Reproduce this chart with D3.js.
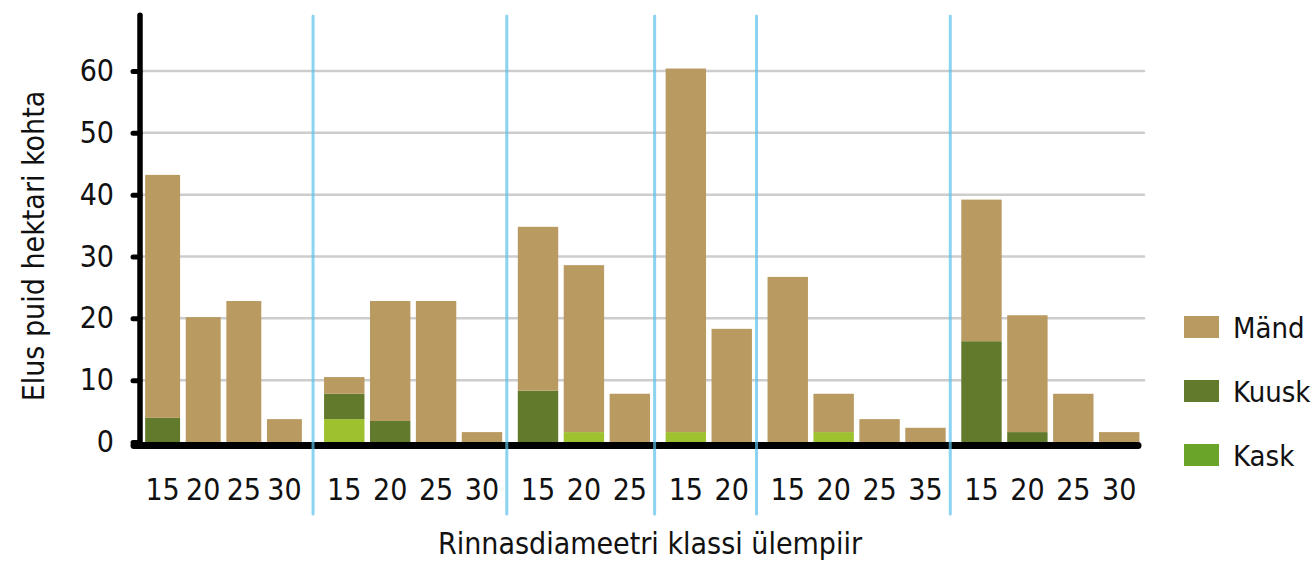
<!DOCTYPE html>
<html>
<head>
<meta charset="utf-8">
<script src="https://cdn.jsdelivr.net/npm/d3@7"></script>
<style>
  body { margin: 0; background: #fff; }
  svg text { font-family: "DejaVu Sans Condensed", "DejaVu Sans", sans-serif; font-stretch: condensed; fill: #111; }
</style>
</head>
<body>
<div id="chart"></div>
<script>
// diameter class labels, one list per plot group
var groups = [
  ["15", "20", "25", "30"],
  ["15", "20", "25", "30"],
  ["15", "20", "25"],
  ["15", "20"],
  ["15", "20", "25", "35"],
  ["15", "20", "25", "30"]
];

// trees per hectare, one value per bar (same order as groups, flattened)
var mand  = [39.3, 20.2, 22.8, 3.7,  2.7, 19.4, 22.8, 1.6,  26.5, 27.0, 7.8,  58.8, 18.3,  26.7, 6.2, 3.7, 2.3,  22.9, 18.9, 7.8, 1.6];
var kuusk = [3.9, 0, 0, 0,           4.1, 3.4, 0, 0,        8.3, 0, 0,        0, 0,        0, 0, 0, 0,            16.3, 1.6, 0, 0];
var kask  = [0, 0, 0, 0,             3.7, 0, 0, 0,          0, 1.6, 0,        1.6, 0,      0, 1.6, 0, 0,          0, 0, 0, 0];

var series = ["Mänd", "Kuusk", "Kask"];
var yTicks = [0, 10, 20, 30, 40, 50, 60];

var barColor = { "Mänd": "#b99a61", "Kuusk": "#627a2c", "Kask": "#9dc22e" };
var legendColor = { "Mänd": "#b99a61", "Kuusk": "#627a2c", "Kask": "#6aa428" };

var svgWidth = 1315, svgHeight = 562;

var svg = d3.select("#chart").append("svg")
  .attr("width", svgWidth)
  .attr("height", svgHeight);

// build rows for the stack
var rows = [];
var k = 0;
groups.forEach(function(labels, g) {
  labels.forEach(function(lab, i) {
    rows.push({ group: g, label: lab, idx: i, "Mänd": mand[k], "Kuusk": kuusk[k], "Kask": kask[k] });
    k++;
  });
});

// stacking goes bottom-up: Kask, Kuusk, Mänd
var stacked = d3.stack().keys(["Kask", "Kuusk", "Mänd"])(rows);

// y scale
var y = d3.scaleLinear().domain([0, 60]).range([442, 71]);

// x: each bar gets one slot, each group a small lead and trailing gap.
// the first group is squeezed in next to the axis in the original
function slotW(g) { return g === 0 ? 0.88 : 1; }
function leadW(g) { return g === 0 ? 0.19 : 0.18; }
function trailW(g) { return g === 0 ? 0.19 : 0.04; }

var starts = [];
var total = 0;
groups.forEach(function(labels, g) {
  starts.push(total);
  total += leadW(g) + labels.length * slotW(g) + trailW(g);
});
var xSlot = d3.scaleLinear().domain([0, total]).range([134, 1144]);

var inner = groups.map(function(labels, g) {
  var a = starts[g] + leadW(g);
  return d3.scaleBand()
    .domain(labels)
    .range([xSlot(a), xSlot(a + labels.length * slotW(g))])
    .paddingInner(g === 0 ? 0.14 : 0.12)
    .paddingOuter(0.06);
});

// gridlines
svg.append("g").selectAll("line")
  .data(yTicks.filter(function(d) { return d > 0; }))
  .enter().append("line")
  .attr("x1", 140).attr("x2", 1144)
  .attr("y1", function(d) { return y(d); })
  .attr("y2", function(d) { return y(d); })
  .attr("stroke", "#cdcdcd")
  .attr("stroke-width", 2.5)
  .attr("stroke-linecap", "round");

// bars
var layers = svg.append("g").selectAll("g")
  .data(stacked)
  .enter().append("g")
  .attr("fill", function(d) { return barColor[d.key]; });

layers.selectAll("rect")
  .data(function(d) { return d; })
  .enter().append("rect")
  .filter(function(d) { return d[1] - d[0] > 0; })
  .attr("x", function(d) { return inner[d.data.group](d.data.label); })
  .attr("width", function(d) { return inner[d.data.group].bandwidth(); })
  .attr("y", function(d) { return y(d[1]); })
  .attr("height", function(d) { return y(d[0]) - y(d[1]); });

// x tick labels, one axis per group
groups.forEach(function(labels, g) {
  var ax = svg.append("g")
    .attr("transform", "translate(0,479)")
    .call(d3.axisBottom(inner[g]).tickSize(0).tickPadding(0));
  ax.select(".domain").remove();
  ax.selectAll("text")
    .attr("dy", "0.71em")
    .style("font-size", "30px");
});

// y axis with ticks and labels
var yAxis = svg.append("g")
  .attr("transform", "translate(140,0)")
  .call(d3.axisLeft(y).tickValues(yTicks).tickSize(7).tickPadding(19));
yAxis.select(".domain").remove();
yAxis.selectAll("line")
  .attr("stroke", "#000")
  .attr("stroke-width", 5)
  .attr("stroke-linecap", "round");
yAxis.selectAll("text")
  .style("font-size", "30px");

svg.append("line")
  .attr("x1", 140).attr("x2", 140)
  .attr("y1", y(69)).attr("y2", y(0) + 3)
  .attr("stroke", "#000")
  .attr("stroke-width", 5.5)
  .attr("stroke-linecap", "round");

svg.append("line")
  .attr("x1", 134).attr("x2", 1138)
  .attr("y1", y(0) + 3.5).attr("y2", y(0) + 3.5)
  .attr("stroke", "#000")
  .attr("stroke-width", 7)
  .attr("stroke-linecap", "round");

// blue separators between groups
svg.append("g").selectAll("line")
  .data(starts.slice(1))
  .enter().append("line")
  .attr("x1", function(d) { return xSlot(d); })
  .attr("x2", function(d) { return xSlot(d); })
  .attr("y1", 16).attr("y2", 514)
  .attr("stroke", "#5bc0eb")
  .attr("stroke-opacity", 0.7)
  .attr("stroke-width", 3)
  .attr("stroke-linecap", "round");

// axis titles
svg.append("text")
  .attr("x", 650).attr("y", 554)
  .attr("text-anchor", "middle")
  .style("font-size", "30px")
  .text("Rinnasdiameetri klassi ülempiir");

svg.append("text")
  .attr("transform", "translate(44,246) rotate(-90)")
  .attr("text-anchor", "middle")
  .style("font-size", "30px")
  .text("Elus puid hektari kohta");

// legend
var legend = svg.append("g").selectAll("g")
  .data(series)
  .enter().append("g")
  .attr("transform", function(d, i) { return "translate(1184," + (316 + i * 64) + ")"; });

legend.append("rect")
  .attr("width", 35).attr("height", 22)
  .attr("fill", function(d) { return legendColor[d]; });

legend.append("text")
  .attr("x", 49).attr("y", 22)
  .style("font-size", "29px")
  .text(function(d) { return d; });
</script>
</body>
</html>
